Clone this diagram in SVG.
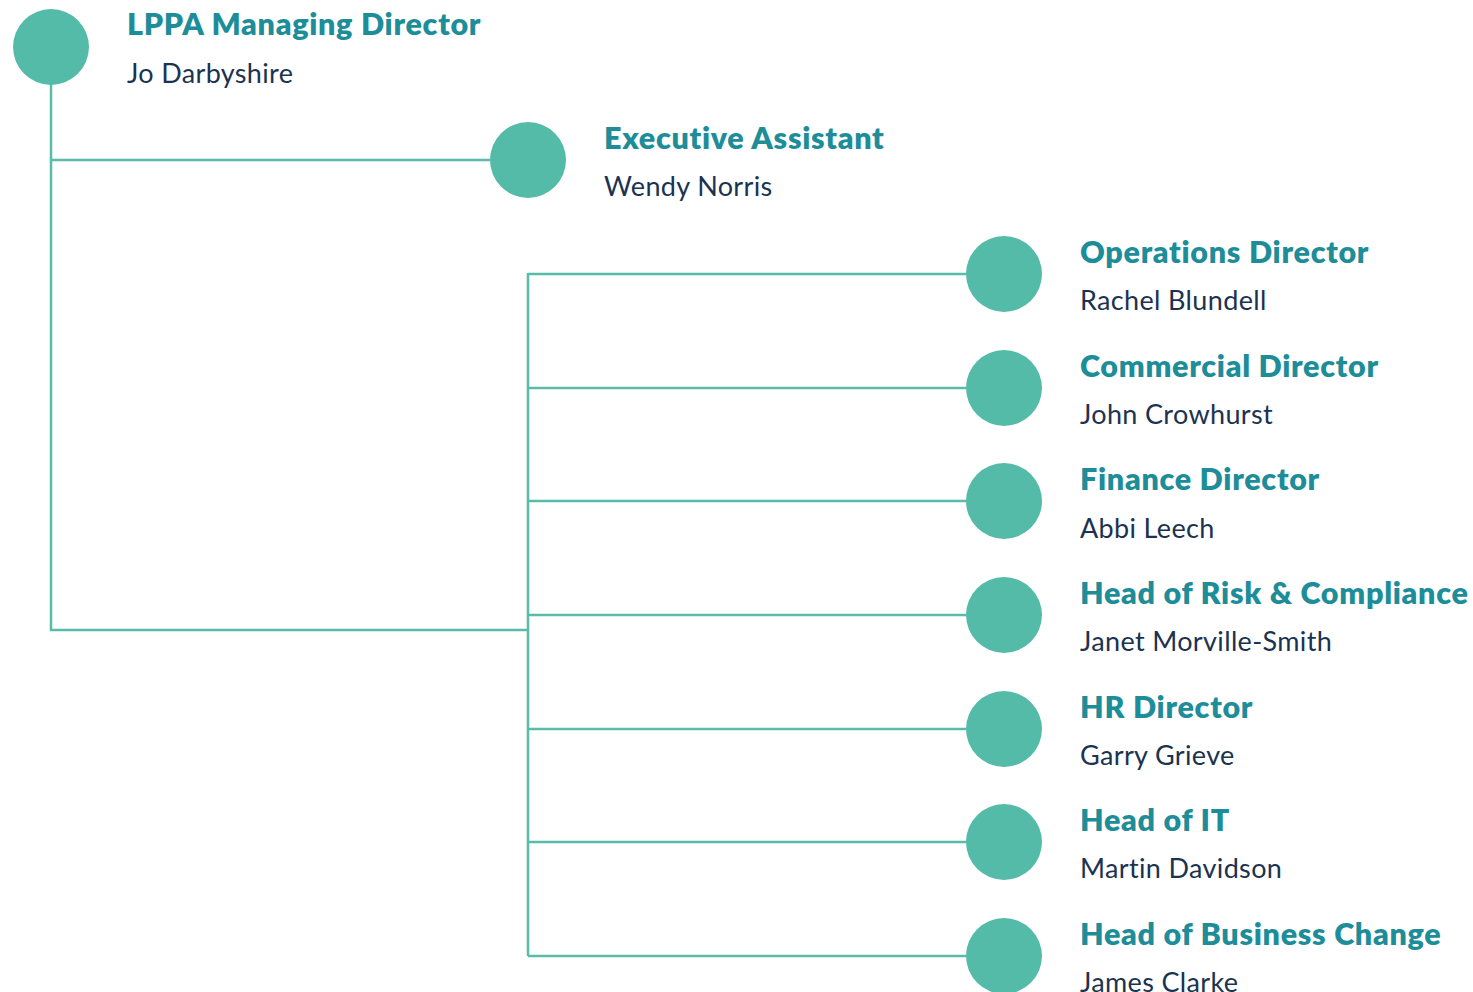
<svg xmlns="http://www.w3.org/2000/svg" width="1473" height="992" viewBox="0 0 1473 992">
<style>
.c{fill:#55bba9}
.l{stroke:#58bca8;stroke-width:2.5;fill:none}
.t{font-family:Lato,"Open Sans",sans-serif;font-weight:800;font-size:30.5px;letter-spacing:0.7px;fill:#1d8d99}
.n{font-family:Lato,"Open Sans",sans-serif;font-size:27px;letter-spacing:0.35px;fill:#1b3350}
</style>
<rect width="1473" height="992" fill="#ffffff"/>
<g id="connectors">
<path class="l" d="M51 84V630H528M51 160H490M528 273V956"/>
<path class="l" d="M528 274H966M528 388H966M528 501H966M528 615H966M528 729H966M528 842H966M528 956H966"/>
</g>
<g id="n0"><circle class="c" cx="51" cy="47" r="38"/><text class="t" x="127" y="35">LPPA Managing Director</text><text class="n" x="127" y="83">Jo Darbyshire</text></g>
<g id="n1"><circle class="c" cx="528" cy="160" r="38"/><text class="t" x="604" y="149">Executive Assistant</text><text class="n" x="604" y="196">Wendy Norris</text></g>
<g id="n2"><circle class="c" cx="1004" cy="274" r="38"/><text class="t" x="1080" y="263">Operations Director</text><text class="n" x="1080" y="310">Rachel Blundell</text></g>
<g id="n3"><circle class="c" cx="1004" cy="388" r="38"/><text class="t" x="1080" y="377">Commercial Director</text><text class="n" x="1080" y="424">John Crowhurst</text></g>
<g id="n4"><circle class="c" cx="1004" cy="501" r="38"/><text class="t" x="1080" y="490">Finance Director</text><text class="n" x="1080" y="538">Abbi Leech</text></g>
<g id="n5"><circle class="c" cx="1004" cy="615" r="38"/><text class="t" x="1080" y="604">Head of Risk &amp; Compliance</text><text class="n" x="1080" y="651">Janet Morville-Smith</text></g>
<g id="n6"><circle class="c" cx="1004" cy="729" r="38"/><text class="t" x="1080" y="718">HR Director</text><text class="n" x="1080" y="765">Garry Grieve</text></g>
<g id="n7"><circle class="c" cx="1004" cy="842" r="38"/><text class="t" x="1080" y="831">Head of IT</text><text class="n" x="1080" y="878">Martin Davidson</text></g>
<g id="n8"><circle class="c" cx="1004" cy="956" r="38"/><text class="t" x="1080" y="945">Head of Business Change</text><text class="n" x="1080" y="992">James Clarke</text></g>
</svg>
